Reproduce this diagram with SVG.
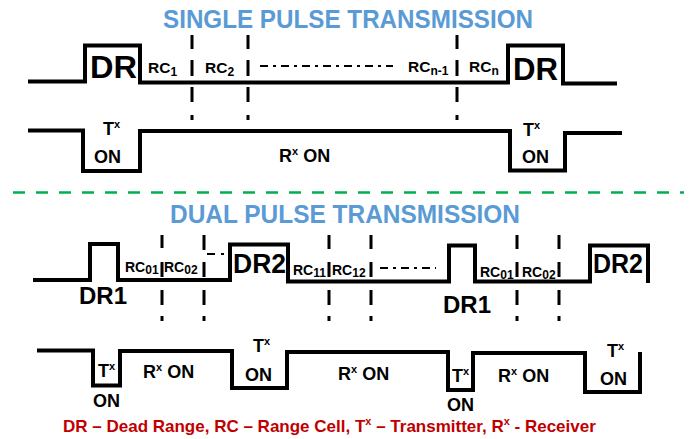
<svg xmlns="http://www.w3.org/2000/svg" width="690" height="439" viewBox="0 0 690 439">
<style>
.wave{fill:none;stroke:#000;stroke-width:4;stroke-linejoin:miter;stroke-linecap:butt}
.vd{fill:none;stroke:#000;stroke-width:3}
.dd{fill:none;stroke:#000;stroke-width:2.2}
.t{font-family:"Liberation Sans",Arial,sans-serif;font-weight:bold;fill:#000}
.title{font-family:"Liberation Sans",Arial,sans-serif;font-weight:bold;fill:#5B9BD5;font-size:25.5px}
.big{font-size:31px}
.rc{font-size:15.5px}
.rc2{font-size:14px}
.sub{font-size:12px}
.lab{font-size:18px}
.sup{font-size:11px}
.legend{font-family:"Liberation Sans",Arial,sans-serif;font-weight:bold;fill:#C00000;font-size:17px}
</style>
<rect width="690" height="439" fill="#fff"/>

<g id="titles">
<text class="title" x="163" y="28" textLength="370" lengthAdjust="spacingAndGlyphs">SINGLE PULSE TRANSMISSION</text>
<text class="title" x="170" y="223" textLength="350" lengthAdjust="spacingAndGlyphs">DUAL PULSE TRANSMISSION</text>
</g>

<g id="separator">
<line x1="13" y1="192.5" x2="684" y2="192.5" stroke="#00B050" stroke-width="2.5" stroke-dasharray="12 11"/>
</g>

<g id="single-waves">
<path class="wave" d="M28,81.5 H85 V45.5 H140 V82.5 H508 V45.5 H563 V83.5 H617"/>
<path class="wave" d="M28,130.5 H83 V171 H140 V131 H510 V170.5 H565 V133 H622"/>
</g>

<g id="single-dashes">
<path class="vd" d="M192,35V49M192,60V76M192,87V102M192,115V120 M248,35V49M248,60V76M248,87V102M248,115V120 M457,35V49M457,60V76M457,87V102M457,115V120"/>
<path class="dd" d="M260,66 H393" stroke-dasharray="8 5 3 5"/>
</g>

<g id="single-labels">
<text class="t big" x="90" y="78" textLength="47" lengthAdjust="spacingAndGlyphs">DR</text>
<text class="t big" x="513" y="80" textLength="45" lengthAdjust="spacingAndGlyphs">DR</text>
<text class="t rc" x="148" y="73">RC<tspan class="sub" dy="3">1</tspan></text>
<text class="t rc" x="205" y="73">RC<tspan class="sub" dy="3">2</tspan></text>
<text class="t rc" x="408" y="72">RC<tspan class="sub" dy="3">n-1</tspan></text>
<text class="t rc" x="469" y="72">RC<tspan class="sub" dy="3">n</tspan></text>
<text class="t lab" x="103" y="135">T<tspan class="sup" dy="-7">x</tspan></text>
<text class="t lab" x="94" y="163">ON</text>
<text class="t lab" x="523" y="136">T<tspan class="sup" dy="-7">x</tspan></text>
<text class="t lab" x="522" y="163">ON</text>
<text class="t lab" x="279" y="162">R<tspan class="sup" dy="-7">x</tspan><tspan dy="7"> ON</tspan></text>
</g>

<g id="dual-waves">
<path class="wave" d="M33,280 H90 V244 H118 V280 H230 V244.5 H288 V281.5 H449 V245.5 H475 V281.5 H590 V245.5 H648 V283"/>
<path class="wave" d="M37,350.5 H93 V385.5 H120 V351 H232 V388 H287 V352 H448 V390 H473 V353 H585 V392 H640 V352"/>
</g>

<g id="dual-dashes">
<path class="vd" d="M162,235V248M162,262V277M162,290V305M162,316V321 M204,235V250M204,262V277M204,290V305M204,316V321 M329,235V249M329,262V277M329,290V305M329,316V321 M371,235V249M371,262V277M371,290V305M371,316V321 M517,235V249M517,262V277M517,290V305M517,316V321 M559,235V249M559,262V277M559,290V305M559,316V321"/>
<path class="dd" d="M207,254 H215 M221,254 H224"/>
<path class="dd" d="M380,268 H436" stroke-dasharray="8 5 3 5"/>
</g>

<g id="dual-labels">
<text class="t" font-size="24" x="79" y="304">DR1</text>
<text class="t" font-size="27" x="233" y="273" textLength="53" lengthAdjust="spacingAndGlyphs">DR2</text>
<text class="t" font-size="24" x="443" y="313">DR1</text>
<text class="t" font-size="27" x="593" y="273" textLength="50" lengthAdjust="spacingAndGlyphs">DR2</text>
<text class="t rc2" x="125" y="272">RC<tspan class="sub" dy="2">01</tspan></text>
<text class="t rc2" x="164" y="272">RC<tspan class="sub" dy="2">02</tspan></text>
<text class="t rc2" x="293" y="275">RC<tspan class="sub" dy="2">11</tspan></text>
<text class="t rc2" x="332" y="275">RC<tspan class="sub" dy="2">12</tspan></text>
<text class="t rc2" x="480" y="277">RC<tspan class="sub" dy="2">01</tspan></text>
<text class="t rc2" x="522" y="277">RC<tspan class="sub" dy="2">02</tspan></text>

<text class="t lab" x="98" y="377">T<tspan class="sup" dy="-7">x</tspan></text>
<text class="t lab" x="93" y="407">ON</text>
<text class="t lab" x="143" y="378">R<tspan class="sup" dy="-7">x</tspan><tspan dy="7"> ON</tspan></text>
<text class="t lab" x="253" y="352">T<tspan class="sup" dy="-7">x</tspan></text>
<text class="t lab" x="245" y="381">ON</text>
<text class="t lab" x="338" y="380">R<tspan class="sup" dy="-7">x</tspan><tspan dy="7"> ON</tspan></text>
<text class="t lab" x="452" y="382">T<tspan class="sup" dy="-7">x</tspan></text>
<text class="t lab" x="447" y="411">ON</text>
<text class="t lab" x="498" y="382">R<tspan class="sup" dy="-7">x</tspan><tspan dy="7"> ON</tspan></text>
<text class="t lab" x="607" y="357">T<tspan class="sup" dy="-7">x</tspan></text>
<text class="t lab" x="600" y="385">ON</text>
</g>

<g id="legend">
<text class="legend" x="63" y="432">DR – Dead Range, RC – Range Cell, T<tspan class="sup" dy="-7">x</tspan><tspan dy="7"> – Transmitter, R</tspan><tspan class="sup" dy="-7">x</tspan><tspan dy="7"> - Receiver</tspan></text>
</g>
</svg>
